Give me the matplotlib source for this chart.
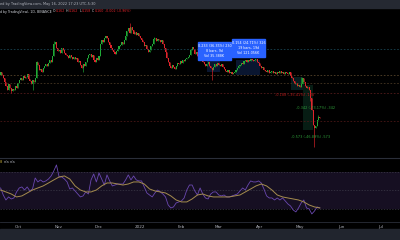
import matplotlib
matplotlib.use("Agg")
import matplotlib.pyplot as plt
import matplotlib.dates as mdates
import pandas as pd
from matplotlib.patches import Rectangle

# --- dados ---
start = "2021-09-18"
closes = [
    1.15, 1.12, 1.09, 1.05, 1.01,  0.97, 1.03, 0.99, 0.96, 0.98,
    0.97, 1.01, 0.99, 1.04, 1.07,  1.09, 1.07, 1.11, 1.09, 1.10,
    1.13, 1.08, 1.06, 1.03, 1.07,  1.05, 1.09, 1.25, 1.22, 1.17,
    1.18, 1.15, 1.19, 1.21, 1.23,  1.21, 1.24, 1.27, 1.25, 1.31,
    1.43, 1.45, 1.39, 1.36, 1.37,  1.34, 1.39, 1.37, 1.34, 1.32,
    1.31, 1.29, 1.32, 1.30, 1.28,  1.30, 1.28, 1.29, 1.25, 1.26,
    1.22, 1.19, 1.23, 1.21, 1.25,  1.29, 1.32, 1.33, 1.30, 1.32,
    1.27, 1.25, 1.29, 1.27, 1.31,  1.43, 1.47, 1.45, 1.49, 1.51,
    1.49, 1.45, 1.42, 1.39, 1.37,  1.35, 1.33, 1.36, 1.38, 1.41,
    1.42, 1.45, 1.43, 1.47, 1.51,  1.56, 1.59, 1.54, 1.60, 1.57,
    1.53, 1.55, 1.52, 1.54, 1.51,  1.49, 1.47, 1.45, 1.41, 1.42,
    1.38, 1.35, 1.37, 1.41, 1.43,  1.48, 1.49, 1.46, 1.48, 1.47,
    1.45, 1.47, 1.43, 1.39, 1.35,  1.29, 1.25, 1.21, 1.19, 1.22,
    1.20, 1.18, 1.21, 1.24, 1.23,  1.26, 1.24, 1.27, 1.26, 1.28,
    1.29, 1.30, 1.32, 1.37, 1.40,  1.38, 1.33, 1.35, 1.31, 1.29,
    1.32, 1.29, 1.25, 1.23, 1.21,  1.23, 1.25, 1.21, 1.19, 1.17,
    1.20, 1.23, 1.21, 1.24, 1.22,  1.21, 1.23, 1.20, 1.18, 1.16,
    1.15, 1.17, 1.14, 1.15, 1.13,  1.14, 1.15, 1.17, 1.19, 1.21,
    1.22, 1.24, 1.23, 1.26, 1.27,  1.25, 1.27, 1.26, 1.28, 1.27,
    1.26, 1.27, 1.28, 1.25, 1.24,  1.21, 1.19, 1.20, 1.17, 1.16,
    1.15, 1.17, 1.14, 1.15, 1.16,  1.14, 1.15, 1.13, 1.15, 1.14,
    1.16, 1.14, 1.15, 1.13, 1.15,  1.14, 1.13, 1.15, 1.11, 1.09,
    1.06, 1.03, 1.04, 1.01, 1.02,  1.00, 1.03, 1.09, 1.05, 1.01,
    0.99, 1.00, 0.97, 0.89, 0.77,  0.62, 0.59, 0.61, 0.67, 0.70,
    0.69,
]
first_open = 1.12
wick_high = {27: 1.26, 40: 1.46, 97: 1.64, 115: 1.50, 143: 1.38, 226: 1.10, 239: 0.72}
wick_low = {8: 0.94, 24: 0.97, 62: 1.15, 159: 1.07, 233: 0.86, 236: 0.40}

# RSI (a cada 2 dias) e sua média (a cada 4 dias)
rsi = [
    52.7, 45.1, 39.7, 43.0, 40.8, 41.9, 48.4, 52.7, 53.8, 50.5,
    53.8, 49.5, 51.6, 63.5, 59.2, 61.4, 59.2, 60.3, 62.4, 65.7,
    71.1, 77.6, 64.6, 64.6, 62.4, 59.2, 51.6, 52.7, 49.5, 46.2,
    43.0, 44.1, 48.4, 46.2, 61.4, 67.8, 59.2, 68.9, 62.4, 55.9,
    66.8, 60.3, 54.9, 55.9, 57.0, 57.0, 57.0, 61.4, 66.8, 61.4,
    65.7, 61.4, 60.3, 60.3, 53.8, 47.3, 45.1, 43.0, 47.3, 50.5,
    48.4, 46.2, 43.0, 34.3, 31.1, 32.2, 36.5, 37.6, 38.7, 41.9,
    50.5, 55.9, 55.9, 49.5, 45.1, 52.7, 46.2, 41.9, 40.8, 46.2,
    48.4, 48.4, 45.1, 44.1, 45.1, 43.0, 43.0, 44.1, 45.1, 46.2,
    49.5, 52.7, 50.5, 55.9, 60.3, 59.2, 59.2, 60.3, 58.1, 51.6,
    44.1, 41.9, 41.9, 39.7, 41.9, 39.7, 41.9, 38.7, 35.4, 33.2,
    28.9, 26.8, 31.1, 36.5, 39.7, 31.1, 30.0, 24.6, 27.8, 32.2,
    31.1,
]
rsi_ma = [
    50.5, 48.4, 46.2, 43.0, 44.1, 47.3, 50.5, 52.7, 54.9, 58.1,
    61.4, 64.6, 65.7, 62.4, 54.9, 50.5, 48.4, 48.4, 50.5, 54.9,
    58.1, 58.1, 57.0, 55.9, 57.0, 59.2, 59.2, 57.0, 51.6, 49.5,
    48.4, 47.3, 44.1, 39.7, 37.6, 37.6, 40.8, 45.1, 46.2, 44.1,
    43.0, 43.0, 43.0, 43.0, 44.1, 45.1, 48.4, 51.6, 54.9, 57.0,
    54.9, 50.5, 45.1, 43.0, 41.9, 40.8, 39.7, 37.6, 34.3, 32.2,
    31.1,
]

# níveis horizontais desenhados
levels = [1.38, 1.12, 1.04, 0.94, 0.66]
level_colors = ["#174250", "#55432a", "#463623", "#531b1b", "#4a1616"]

months = ["2021-10-01", "2021-11-01", "2021-12-01", "2022-01-01", "2022-02-01",
          "2022-03-01", "2022-04-01", "2022-05-01", "2022-06-01", "2022-07-01"]
month_labels = ["Oct", "Nov", "Dec", "2022", "Feb", "Mar", "Apr", "May", "Jun", "Jul"]

# --- preparação ---
dates = pd.date_range(start, periods=len(closes))
xd = mdates.date2num(dates)
opens = [first_open] + closes[:-1]
highs = [max(o, c) for o, c in zip(opens, closes)]
lows = [min(o, c) for o, c in zip(opens, closes)]
for i, v in wick_high.items():
    highs[i] = v
for i, v in wick_low.items():
    lows[i] = v

GREEN = "#1faa36"
RED = "#e0242b"
cols = [GREEN if c >= o else RED for o, c in zip(opens, closes)]

W, H = 400, 240
fig = plt.figure(figsize=(4, 2.4), dpi=100, facecolor="black")
renderer = fig.canvas.get_renderer()


def fy(y):
    return 1 - y / H


def text_run(x, y, parts, size, gap=1.0):
    # escreve pedaços de texto um após o outro
    for s, c in parts:
        t = fig.text(x / W, fy(y), s, color=c, fontsize=size, va="center", ha="left")
        x += t.get_window_extent(renderer).width + gap


xlim = (xd[0] - 0.45, xd[0] + 300.3)

# barras superior e inferior
fig.patches.append(Rectangle((0, fy(8)), 1, 8 / H, transform=fig.transFigure,
                             color="#252932", zorder=0))
fig.patches.append(Rectangle((0, 0), 1, 11 / H, transform=fig.transFigure,
                             color="#21252e", zorder=0))

# --- painel de preço ---
ax = fig.add_axes([0, fy(157), 1, 149 / H])
ax.set_facecolor("black")
ax.set_xlim(*xlim)
ax.set_ylim(0.30, 1.79)
for lv, lc in zip(levels, level_colors):
    ax.axhline(lv, color=lc, lw=0.6, ls=(0, (2, 2)))

ax.vlines(xd, lows, highs, colors=cols, lw=0.45)
body = [c - o if abs(c - o) > 0.004 else 0.004 for o, c in zip(opens, closes)]
ax.bar(xd, body, bottom=opens, width=0.8, color=cols, linewidth=0)

# ferramentas de medição (áreas escuras)
d0 = xd[0]
for (a, b, y0, y1, fc) in [(155, 165, 1.15, 1.27, "#0a1630"),
                           (177, 195, 1.12, 1.27, "#0a1630"),
                           (218, 227, 0.97, 1.10, "#081d1f"),
                           (227, 235, 0.57, 1.02, "#071d14")]:
    ax.add_patch(Rectangle((d0 + a, y0), b - a, y1 - y0, color=fc, zorder=0.5, lw=0))

boxes = [(198, 231, 42, 60, ["0.233 (36.35%) 230", "8 bars, 9d", "Vol 35.388K"]),
         (232, 265, 39, 57, ["0.154 (24.71%) 326", "19 bars, 19d", "Vol 121.056K"])]
for x0, x1, y0, y1, lines in boxes:
    fig.patches.append(Rectangle((x0 / W, fy(y1)), (x1 - x0) / W, (y1 - y0) / H,
                                 transform=fig.transFigure, color="#2962ff", zorder=5))
    for k, t in enumerate(lines):
        fig.text((x0 + x1) / 2 / W, fy(y0 + 4 + k * 5.2), t, color="white",
                 fontsize=2.4, ha="center", va="center", zorder=6)

fig.text(295 / W, fy(95), "-0.188 (-35.41%) -188", color="#b71c1c", fontsize=2.5,
         ha="center", va="center")
fig.text(316 / W, fy(108), "-0.342 (-73.17%) -342", color="#2e9e3a", fontsize=2.5,
         ha="center", va="center")
fig.text(311 / W, fy(137), "-0.573 (-46.89%) -573", color="#2e9e3a", fontsize=2.5,
         ha="center", va="center")

ax.set_xticks([])
ax.set_yticks([])
for s in ax.spines.values():
    s.set_visible(False)

# cabeçalho
fig.text(0, fy(4), "ed by TradingView.com, May 16, 2022 17:23 UTC-5:30",
         color="#b2b5be", fontsize=2.5, va="center", ha="left")
hdr = [("d by TradingView), 1D, BINANCE", "#d1d4dc"),
       ("O", "#d1d4dc"), ("0.162", RED), ("H", "#d1d4dc"), ("0.162", RED),
       ("L", "#d1d4dc"), ("0.158", RED), ("C", "#d1d4dc"), ("0.160", RED),
       ("-0.002 (-0.96%)", RED)]
text_run(0, 11.5, hdr, 2.3, gap=0.8)

# separadores
fig.add_artist(plt.Line2D([0, 1], [fy(157.5)] * 2, color="#2a2e39", lw=0.8))
fig.add_artist(plt.Line2D([0, 1], [fy(222)] * 2, color="#2a2e39", lw=0.6))

# --- painel RSI ---
axr = fig.add_axes([0, fy(222), 1, 64 / H])
axr.set_facecolor("black")
axr.set_xlim(*xlim)
axr.set_ylim(15.9, 85.1)
axr.axhspan(30, 70, color="#160f22", lw=0)
for lv in (70, 50, 30):
    axr.axhline(lv, color="#3c3a48", lw=0.5, ls=(0, (2, 2)))
axr.plot(xd[::2], rsi, color="#6a48b0", lw=0.6)
axr.plot(xd[::4], rsi_ma, color="#a58c4e", lw=0.7)

text_run(0, 162, [("8", "#c9b037"), ("n/a", "#b2b5be"), ("n/a", "#b2b5be")], 2.6)

axr.set_yticks([])
axr.set_xticks(mdates.date2num(pd.to_datetime(months)))
axr.set_xticklabels(month_labels, fontsize=3.0, color="#b2b5be")
axr.tick_params(axis="x", length=0, pad=2)
for s in axr.spines.values():
    s.set_visible(False)

fig.savefig("out.png", dpi=100, facecolor="black")
